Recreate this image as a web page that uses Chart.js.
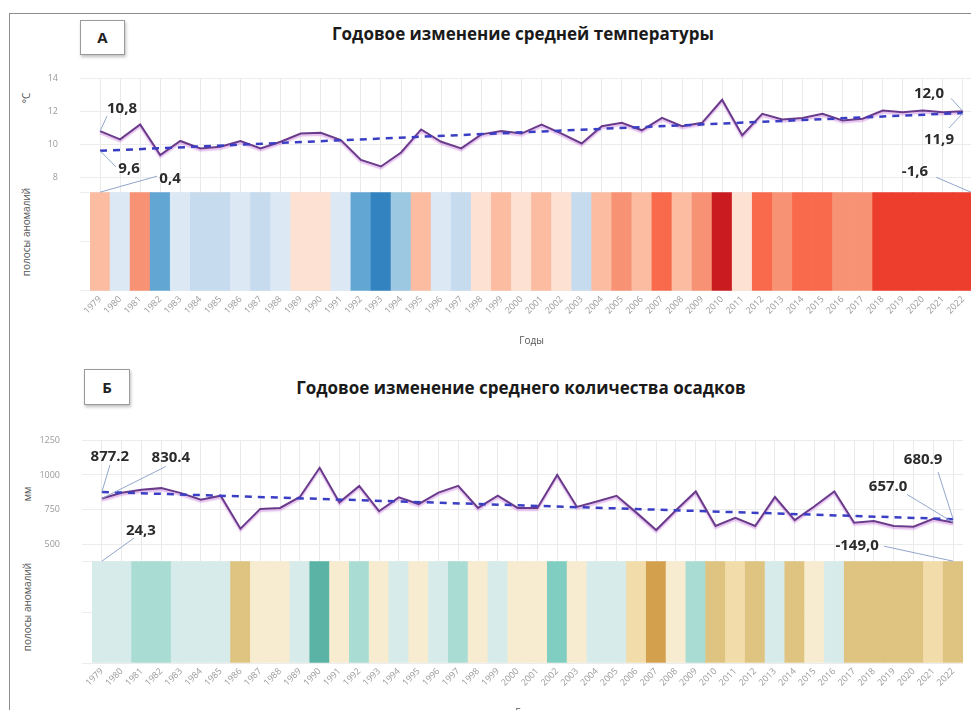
<!DOCTYPE html>
<html><head><meta charset="utf-8">
<script src="https://cdn.jsdelivr.net/npm/chart.js@4"></script>
<style>
html,body{margin:0;padding:0;width:971px;height:710px;overflow:hidden;background:#fff;font-family:'Open Sans',sans-serif;}
#frame{position:absolute;left:9px;top:13px;width:1000px;height:800px;border-top:1.5px solid #8c8c8c;border-left:1.5px solid #8c8c8c;}
.box{position:absolute;border:1px solid #9a9a9a;box-shadow:1px 2px 3px rgba(0,0,0,0.25);background:#fff;font-weight:700;font-size:15px;color:#222;text-align:center;}
.title{position:absolute;font-weight:700;font-size:17px;color:#1a1a1a;white-space:nowrap;transform:translate(-50%,-50%);}
.ytitle{position:absolute;font-size:10px;color:#555;white-space:nowrap;transform:translate(-50%,-50%) rotate(-90deg);}
.cw{position:absolute;}
</style></head>
<body>
<div id="frame"></div>
<div class="box" style="left:80px;top:20px;width:43px;height:33px;line-height:33px;">А</div>
<div class="title" style="left:523px;top:33px;">Годовое изменение средней температуры</div>
<div class="box" style="left:84px;top:369px;width:44px;height:34px;line-height:34px;">Б</div>
<div class="title" style="left:521px;top:387px;">Годовое изменение среднего количества осадков</div>
<div class="ytitle" style="left:26px;top:98px;">°C</div>
<div class="ytitle" style="left:26px;top:232px;">полосы аномалий</div>
<div class="ytitle" style="left:27px;top:494px;">мм</div>
<div class="ytitle" style="left:27px;top:607px;">полосы аномалий</div>
<div class="cw" style="left:0;top:51px;"><canvas id="c1" width="975" height="300"></canvas></div>
<div class="cw" style="left:0;top:413px;"><canvas id="c2" width="965" height="310"></canvas></div>
<script>
const years = ['1979','1980','1981','1982','1983','1984','1985','1986','1987','1988','1989','1990','1991','1992','1993','1994','1995','1996','1997','1998','1999','2000','2001','2002','2003','2004','2005','2006','2007','2008','2009','2010','2011','2012','2013','2014','2015','2016','2017','2018','2019','2020','2021','2022'];

const temps = [10.8,10.3,11.2,9.35,10.2,9.75,9.85,10.2,9.75,10.15,10.65,10.7,10.25,9.05,8.65,9.5,10.9,10.15,9.75,10.6,10.8,10.65,11.2,10.65,10.05,11.1,11.3,10.85,11.6,11.1,11.3,12.7,10.55,11.85,11.5,11.6,11.85,11.45,11.55,12.05,11.95,12.05,11.95,12.0];
const tempTrendEnds = [9.6, 11.9];
const tempAnomalyEnds = [0.4, -1.6];
const tempStripeLevels = [2,-1,3,-4,-1,-2,-2,-1,-2,-1,1,1,-1,-4,-5,-3,2,-1,-2,1,2,1,2,1,-2,2,3,2,4,2,3,6,1,4,3,4,4,3,3,5,5,5,5,5];
const tempTicks = [8,10,12,14];

const precip = [830.4,872,893,905,869,821,850,612,755,762,841,1052,802,921,738,838,790,873,921,762,850,762,762,1000,769,809,850,728,602,745,881,631,690,631,841,674,774,881,655,667,631,626,683,657.0];
const precipTrendEnds = [877.2, 680.9];
const precipAnomalyEnds = [24.3, -149.0];
const precipStripeLevels = [1,1,2,2,1,1,1,-3,-1,-1,1,4,-1,2,-1,1,-1,1,2,-1,1,-1,-1,3,-1,1,1,-2,-4,-1,2,-3,-2,-3,1,-3,-1,1,-3,-3,-3,-3,-2,-3];
const precipTicks = [500,750,1000,1250];

const tempPalette = {'-5':'#3383c0','-4':'#62a7d4','-3':'#9dc8e2','-2':'#c7dbef','-1':'#dde8f5','1':'#fde1d3','2':'#fbbca2','3':'#f89274','4':'#f86a4b','5':'#ec3d2d','6':'#c91b20'};
const precipPalette = {'-4':'#d3a04e','-3':'#dfc380','-2':'#f1dcaa','-1':'#f7ecd0','1':'#d7ebea','2':'#a9ddd4','3':'#80cdc1','4':'#5ab3a5'};

function fmt(v, sep){ return v.toFixed(1).replace('.', sep); }

const notesPlugin = {
  id:'notes',
  afterDatasetsDraw(chart, args, opts) {
    const ctx = chart.ctx, xs = chart.scales.x;
    ctx.save();
    opts.items.forEach(n => {
      const ax = xs.getPixelForValue(n.i) + (n.ax||0);
      const ay = chart.scales[n.axis].getPixelForValue(n.v);
      ctx.strokeStyle = '#93a5cc'; ctx.lineWidth = 1;
      ctx.beginPath(); ctx.moveTo(ax, ay); ctx.lineTo(ax+n.lx, ay+n.ly); ctx.stroke();
      ctx.font = '700 15px "Open Sans"'; ctx.fillStyle = '#2b2b2b';
      ctx.textAlign = 'center'; ctx.textBaseline = 'middle';
      ctx.fillText(n.text, ax+n.tx, ay+n.ty);
    });
    ctx.restore();
  }
};

const glowPlugin = {
  id:'glow',
  beforeDatasetDraw(chart, args) {
    if (args.index === 0) {
      const ctx = chart.ctx; ctx.save();
      ctx.shadowColor = 'rgba(200,120,220,0.55)'; ctx.shadowBlur = 1.5; ctx.shadowOffsetY = 2;
    }
  },
  afterDatasetDraw(chart, args) {
    if (args.index === 0) chart.ctx.restore();
  }
};

function build(id, cfg) {
  const last = years.length - 1;
  const ones = years.map(() => 1);
  return new Chart(document.getElementById(id), {
    type: 'bar',
    data: {
      labels: years,
      datasets: [
        {type:'line', data: cfg.values, yAxisID:'yL', borderColor:'#6a3a8b', borderWidth:2, pointRadius:0, tension:0, order:2},
        {type:'line', data:[{x:years[0], y:cfg.trend[0]},{x:years[last], y:cfg.trend[1]}], yAxisID:'yL', borderColor:'#3a3ec4', borderWidth:2.5, borderDash:[7,6], pointRadius:0, order:1},
        {type:'bar', data: ones, yAxisID:'yS', backgroundColor: cfg.levels.map(l => cfg.palette[String(l)]), barPercentage:1, categoryPercentage:1, borderWidth:0, order:3}
      ]
    },
    options: {
      responsive:false, animation:false,
      layout:{padding:{top:10, right:2, left:0, bottom:0}},
      plugins:{legend:{display:false}, tooltip:{enabled:false}, notes:{items:cfg.notes}},
      scales: {
        x: {
          offset:true,
          grid:{offset:false, color:'#e9e9e9', drawTicks:false},
          border:{display:false},
          ticks:{autoSkip:false, minRotation:45, maxRotation:45, padding:3, color:'#9a9a9a', font:{size:9, family:'Open Sans'}},
          title:{display:true, text:'Годы', color:'#555', font:{size:10, family:'Open Sans'}, padding:{top:0,bottom:4}},
          afterFit(s){ s.height = 60; }
        },
        yS: {
          position:'left', stack:'p', stackWeight:cfg.wS, min:0, max:1,
          ticks:{display:false, stepSize:0.5},
          grid:{color:'#ededed', tickLength:10},
          border:{display:false},
          afterFit(s){ s.width = cfg.axisW; }
        },
        yL: {
          position:'left', stack:'p', stackWeight:cfg.wL, min:cfg.min, max:cfg.max,
          afterBuildTicks(s){ s.ticks = cfg.ticks.map(v => ({value:v})); },
          ticks:{padding:22, color:'#9a9a9a', font:{size:9, family:'Open Sans'}, callback:(v) => String(v)},
          grid:{color:'#ececec', tickLength:10},
          border:{display:false},
          afterFit(s){ s.width = cfg.axisW; }
        }
      }
    },
    plugins:[glowPlugin, notesPlugin]
  });
}

build('c1', {
  values: temps, trend: tempTrendEnds, levels: tempStripeLevels, palette: tempPalette,
  min: 7.09, max: 14, ticks: tempTicks, wL: 114, wS: 99, axisW: 90,
  notes: [
    {text: fmt(temps[0], ','), i:0, axis:'yL', v:temps[0], tx:22, ty:-22, lx:7, ly:-15},
    {text: fmt(tempTrendEnds[0], ','), i:0, axis:'yL', v:tempTrendEnds[0], tx:29, ty:18, lx:16, ly:16},
    {text: fmt(tempAnomalyEnds[0], ','), i:0, axis:'yS', v:1, tx:70, ty:-13, lx:57, ly:-16},
    {text: fmt(temps[43], ','), i:43, axis:'yL', v:temps[43], tx:-34, ty:-18, lx:-12, ly:-13},
    {text: fmt(tempTrendEnds[1], ','), i:43, axis:'yL', v:tempTrendEnds[1], tx:-24, ty:27, lx:-14, ly:15},
    {text: fmt(tempAnomalyEnds[1], ','), i:43, ax:8, axis:'yS', v:1, tx:-56, ty:-20, lx:-35, ly:-15}
  ]
});

build('c2', {
  values: precip, trend: precipTrendEnds, levels: precipStripeLevels, palette: precipPalette,
  min: 377, max: 1250, ticks: precipTicks, wL: 121, wS: 102, axisW: 92,
  notes: [
    {text: fmt(precipTrendEnds[0], '.'), i:0, axis:'yL', v:precipTrendEnds[0], tx:8, ty:-35, lx:8, ly:-27},
    {text: fmt(precip[0], '.'), i:0, axis:'yL', v:precip[0], tx:69, ty:-41, lx:64, ly:-32},
    {text: fmt(precipAnomalyEnds[0], ','), i:0, axis:'yS', v:1, tx:39, ty:-30, lx:32, ly:-23},
    {text: fmt(precipTrendEnds[1], '.'), i:43, axis:'yL', v:precipTrendEnds[1], tx:-30, ty:-59, lx:-15, ly:-47},
    {text: fmt(precip[43], '.'), i:43, axis:'yL', v:precip[43], tx:-65, ty:-36, lx:-46, ly:-28},
    {text: fmt(precipAnomalyEnds[1], ','), i:43, axis:'yS', v:1, tx:-96, ty:-15, lx:-69, ly:-15}
  ]
});
</script>
</body></html>
